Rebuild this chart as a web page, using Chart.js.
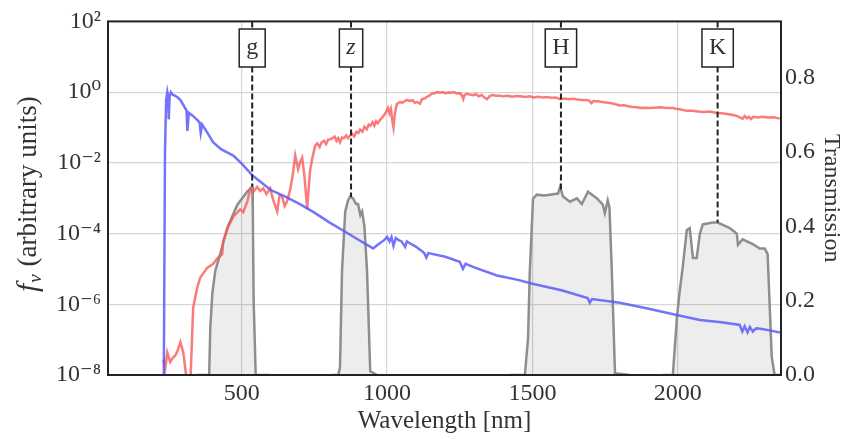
<!DOCTYPE html>
<html>
<head>
<meta charset="utf-8">
<script src="https://cdn.jsdelivr.net/npm/chart.js@4.4.0/dist/chart.umd.min.js"></script>
<style>
  html, body { margin: 0; padding: 0; background: #fff; }
  #wrap { width: 848px; height: 439px; }
</style>
</head>
<body>
<div id="wrap"><canvas id="grafico"></canvas></div>
<script>
// blue spectrum (f_nu, left log axis)
const blueWave = [230, 232, 236, 240, 244, 247, 249, 252, 256, 262, 270, 280, 289, 300, 310, 313, 318, 330, 345, 355, 359, 364, 380, 402, 430, 471, 500, 536, 560, 600, 650, 700, 750, 800, 850, 900, 952, 970, 990, 1000, 1008, 1015, 1022, 1030, 1040, 1050, 1062, 1068, 1075, 1100, 1128, 1135, 1142, 1200, 1250, 1261, 1270, 1300, 1378, 1450, 1500, 1600, 1690, 1697, 1705, 1800, 1900, 2000, 2076, 2150, 2213, 2222, 2230, 2240, 2248, 2258, 2270, 2290, 2320, 2351];
const blueFlux = [5e-9, 1e-8, 0.02, 0.6, 1.0, 0.7, 0.17, 0.8, 1.0, 0.85, 0.8, 0.7, 0.6, 0.42, 0.3, 0.08, 0.26, 0.22, 0.17, 0.14, 0.07, 0.12, 0.075, 0.038, 0.024, 0.016, 0.0095, 0.0045, 0.0031, 0.0017, 0.0011, 6.8e-4, 3.9e-4, 2.1e-4, 1.2e-4, 6.8e-5, 3.8e-5, 5e-5, 6.5e-5, 8e-5, 6e-5, 8e-5, 4.5e-5, 7.5e-5, 6.5e-5, 6e-5, 4.2e-5, 6e-5, 5.5e-5, 4.2e-5, 2.8e-5, 2.1e-5, 2.8e-5, 2.2e-5, 1.6e-5, 1.0e-5, 1.4e-5, 1.1e-5, 6.5e-6, 4.9e-6, 3.8e-6, 2.5e-6, 1.5e-6, 1.1e-6, 1.4e-6, 1.1e-6, 7.5e-7, 4.9e-7, 3.6e-7, 3.1e-7, 2.6e-7, 1.7e-7, 2.4e-7, 1.6e-7, 2.3e-7, 1.7e-7, 2.1e-7, 2.0e-7, 1.8e-7, 1.6e-7];

// red spectrum (f_nu, left log axis)
const redWave = [230, 237, 244, 254, 262, 271, 280, 289, 299, 306, 313, 323, 333, 347, 357, 381, 402, 416, 433, 436, 454, 471, 495, 505, 519, 529, 540, 553, 563, 574, 585, 598, 608, 622, 630, 639, 648, 656, 667, 677, 684, 694, 702, 708, 716, 725, 735, 742,
  753, 760, 768, 775, 783, 790, 797, 804, 812, 820, 826, 832, 838, 845, 852, 860, 866, 873, 880, 887, 895, 902, 907, 915, 922, 930, 937, 942, 950, 956, 962, 968, 976, 983, 990, 997,
  1003, 1008, 1013, 1018, 1022, 1027, 1033, 1038, 1045, 1052, 1060, 1069, 1078, 1088, 1095, 1103, 1113, 1120, 1130, 1137, 1145, 1155, 1165, 1172, 1182, 1190, 1200, 1210, 1220, 1230, 1240, 1251, 1258, 1262, 1267, 1275, 1285, 1296, 1306, 1315, 1325, 1335, 1344, 1352, 1362, 1375, 1388,
  1400, 1415, 1430, 1445, 1460, 1475, 1490, 1505, 1520, 1535, 1550, 1565, 1580, 1595, 1610, 1625, 1640, 1655, 1670, 1685, 1695, 1703, 1710, 1725, 1740, 1760, 1780, 1800, 1815, 1830, 1845, 1860, 1875, 1890, 1905, 1920, 1940, 1960, 1983,
  2000, 2015, 2031, 2050, 2070, 2090, 2110, 2134, 2150, 2170, 2190, 2205, 2215, 2223, 2230, 2238, 2245, 2252, 2260, 2275, 2290, 2310, 2330, 2351];
const redFlux = [2.7e-8, 1.5e-8, 4.3e-8, 2.3e-8, 3e-8, 3.5e-8, 5e-8, 8.5e-8, 4.3e-8, 1.5e-8, 5e-9, 5e-9, 8e-7, 3e-6, 5.6e-6, 1.07e-5, 1.4e-5, 2e-5, 2.6e-5, 6e-5, 1.6e-4, 3e-4, 4.8e-4, 4e-4, 7.9e-4, 1.8e-3, 1.5e-3, 2.1e-3, 1.6e-3, 1.9e-3, 1.3e-3, 1.9e-3, 9e-4, 4.2e-4, 1.2e-3, 1.1e-3, 6e-4, 8e-4, 1.8e-3, 5.5e-3, 1.6e-2, 6.6e-3, 1.1e-2, 1.4e-2, 4e-3, 5e-4, 6e-3, 1.26e-2,
  0.031, 0.0355, 0.028, 0.038, 0.042, 0.034, 0.045, 0.046, 0.05, 0.055, 0.042, 0.05, 0.038, 0.052, 0.05, 0.06, 0.05, 0.059, 0.066, 0.056, 0.076, 0.071, 0.087, 0.076, 0.105, 0.089, 0.12, 0.112, 0.141, 0.112, 0.151, 0.132, 0.166, 0.19, 0.224, 0.282,
  0.355, 0.251, 0.331, 0.158, 0.1, 0.251, 0.447, 0.49, 0.525, 0.5, 0.55, 0.6, 0.562, 0.589, 0.5, 0.525, 0.468, 0.631, 0.661, 0.741, 0.794, 0.912, 0.933, 1.0, 0.955, 1.0, 0.933, 0.977, 0.955, 1.0, 0.912, 0.933, 0.794, 0.631, 0.832, 0.891, 0.851, 0.813, 0.871, 0.759, 0.832, 0.708, 0.631, 0.759, 0.832, 0.794, 0.794,
  0.759, 0.794, 0.741, 0.776, 0.759, 0.724, 0.759, 0.708, 0.741, 0.708, 0.724, 0.692, 0.708, 0.631, 0.661, 0.631, 0.646, 0.617, 0.603, 0.603, 0.575, 0.49, 0.562, 0.55, 0.525, 0.5, 0.468, 0.417, 0.427, 0.398, 0.38, 0.372, 0.355, 0.363, 0.355, 0.363, 0.372, 0.355, 0.355,
  0.331, 0.316, 0.295, 0.295, 0.282, 0.275, 0.282, 0.257, 0.251, 0.24, 0.224, 0.209, 0.191, 0.178, 0.209, 0.182, 0.2, 0.174, 0.2, 0.191, 0.2, 0.191, 0.195, 0.178];

// filter transmission curves (right axis)
const gWave = [347, 388, 392, 399, 409, 426, 450, 485, 519, 536, 538, 541, 548, 598];
const gTrans = [0, 0, 0.13, 0.22, 0.28, 0.326, 0.395, 0.458, 0.493, 0.506, 0.45, 0.2, 0, 0];
const zWave = [811, 832, 838, 845, 856, 866, 873, 883, 893, 900, 908, 914, 922, 931, 942, 966];
const zTrans = [0, 0, 0.02, 0.28, 0.44, 0.47, 0.48, 0.475, 0.46, 0.46, 0.43, 0.44, 0.4, 0.28, 0.01, 0];
const hWave = [1423, 1474, 1485, 1491, 1502, 1515, 1540, 1560, 1588, 1595, 1605, 1629, 1653, 1670, 1691, 1722, 1742, 1749, 1759, 1765, 1773, 1784, 1835];
const hTrans = [0, 0, 0.1, 0.28, 0.474, 0.485, 0.483, 0.485, 0.488, 0.506, 0.48, 0.466, 0.475, 0.46, 0.493, 0.475, 0.458, 0.435, 0.47, 0.45, 0.28, 0.005, 0];
const kWave = [1948, 1983, 1997, 2007, 2017, 2031, 2041, 2052, 2065, 2076, 2086, 2120, 2137, 2179, 2203, 2207, 2223, 2258, 2282, 2299, 2309, 2323, 2333, 2355];
const kTrans = [0, 0, 0.155, 0.228, 0.29, 0.39, 0.395, 0.315, 0.315, 0.38, 0.405, 0.41, 0.41, 0.395, 0.38, 0.35, 0.365, 0.352, 0.34, 0.34, 0.325, 0.05, 0, 0];

const filterNames = ["g", "z", "H", "K"];
const filterCenters = [536, 876, 1598, 2137];

const xTicks = [500, 1000, 1500, 2000];
const fluxTicks = [1e-8, 1e-6, 1e-4, 1e-2, 1, 100];
const transTicks = [0, 0.2, 0.4, 0.6, 0.8];

const filterWaves = [gWave, zWave, hWave, kWave];
const filterTrans = [gTrans, zTrans, hTrans, kTrans];

function pares(xs, ys) {
  return xs.map((x, i) => ({ x: x, y: ys[i] }));
}

function interp(xs, ys, x) {
  for (let i = 1; i < xs.length; i++) {
    if (x <= xs[i]) {
      const t = (x - xs[i - 1]) / (xs[i] - xs[i - 1]);
      return ys[i - 1] + t * (ys[i] - ys[i - 1]);
    }
  }
  return ys[ys.length - 1];
}

const sup = { "-": "\u207B", "0": "\u2070", "1": "\u00B9", "2": "\u00B2", "4": "\u2074", "6": "\u2076", "8": "\u2078" };
function potencia(v) {
  const e = String(Math.round(Math.log10(v)));
  return "10" + e.split("").map(c => sup[c]).join("");
}

const serif = "'Liberation Serif', 'DejaVu Serif', serif";
Chart.defaults.font.family = serif;
Chart.defaults.color = "#333";

const grid = "#d6d6d6";

const extras = {
  id: "extras",
  afterDatasetsDraw(chart) {
    const c = chart.ctx;
    const a = chart.chartArea;
    const xs = chart.scales.x;
    const y2 = chart.scales.y2;

    // filter markers
    filterNames.forEach((nome, i) => {
      const px = xs.getPixelForValue(filterCenters[i]);
      const pk = interp(filterWaves[i], filterTrans[i], filterCenters[i]);
      const py = y2.getPixelForValue(pk);
      c.save();
      c.strokeStyle = "#222";
      c.lineWidth = 2;
      c.setLineDash([6, 3]);
      c.beginPath();
      c.moveTo(px, a.top);
      c.lineTo(px, py);
      c.stroke();
      c.setLineDash([]);
      c.font = (nome === "z" ? "italic " : "") + "24px " + serif;
      const w = c.measureText(nome).width + 14;
      c.fillStyle = "#fff";
      c.fillRect(px - w / 2, 29, w, 38);
      c.lineWidth = 1.5;
      c.strokeRect(px - w / 2, 29, w, 38);
      c.fillStyle = "#333";
      c.textAlign = "center";
      c.textBaseline = "middle";
      c.fillText(nome, px, 48);
      c.restore();
    });

    // frame
    c.save();
    c.strokeStyle = "#222";
    c.lineWidth = 2;
    c.strokeRect(a.left, a.top, a.right - a.left, a.bottom - a.top);
    c.restore();

    // left axis title: f_nu (arbitrary units)
    c.save();
    c.translate(29, (a.top + a.bottom) / 2 - 4);
    c.rotate(-Math.PI / 2);
    c.fillStyle = "#333";
    c.textBaseline = "middle";
    c.textAlign = "left";
    const p1 = "italic 30px " + serif;
    const p2 = "italic 19px " + serif;
    const p3 = "27px " + serif;
    const resto = " (arbitrary units)";
    c.font = p1; const w1 = c.measureText("f").width;
    c.font = p2; const w2 = c.measureText("\u03BD").width;
    c.font = p3; const w3 = c.measureText(resto).width;
    let x0 = -(w1 + w2 + 2 + w3) / 2;
    c.font = p1; c.fillText("f", x0, 0);
    c.font = p2; c.fillText("\u03BD", x0 + w1 + 1, 7);
    c.font = p3; c.fillText(resto, x0 + w1 + w2 + 2, 0);
    c.restore();
  }
};

const ctx = document.getElementById("grafico");

const chart = new Chart(ctx, {
  type: "line",
  data: {
    datasets: [
      {
        label: "blue",
        data: pares(blueWave, blueFlux),
        yAxisID: "y",
        borderColor: "rgba(90, 90, 250, 0.85)",
        borderWidth: 2.5,
        pointRadius: 0,
        tension: 0,
        fill: false,
      },
      {
        label: "red",
        data: pares(redWave, redFlux),
        yAxisID: "y",
        borderColor: "rgba(250, 90, 90, 0.8)",
        borderWidth: 2.5,
        pointRadius: 0,
        tension: 0,
        fill: false,
      },
      ...filterNames.map((nome, i) => ({
        label: nome,
        data: pares(filterWaves[i], filterTrans[i]),
        yAxisID: "y2",
        borderColor: "#8e8e8e",
        backgroundColor: "rgba(0, 0, 0, 0.07)",
        borderWidth: 2.5,
        pointRadius: 0,
        tension: 0,
        fill: "origin",
      })),
    ],
  },
  options: {
    responsive: true,
    maintainAspectRatio: false,
    animation: false,
    layout: { padding: { top: 17, left: 0, right: 0, bottom: 0 }, autoPadding: false },
    plugins: {
      legend: { display: false },
      tooltip: { enabled: false },
    },
    scales: {
      x: {
        type: "linear",
        min: 40,
        max: 2355,
        afterBuildTicks: s => { s.ticks = xTicks.map(v => ({ value: v })); },
        afterFit: s => { s.height = 64; },
        ticks: { font: { size: 24 }, padding: 4, callback: v => String(v) },
        grid: { color: grid, lineWidth: 1.2, drawTicks: false },
        border: { display: false },
        title: { display: true, text: "Wavelength [nm]", font: { size: 25 }, padding: { top: 0, bottom: 3 } },
      },
      y: {
        type: "logarithmic",
        position: "left",
        min: 1e-8,
        max: 100,
        afterBuildTicks: s => { s.ticks = fluxTicks.map(v => ({ value: v })); },
        afterFit: s => { s.width = 108; },
        ticks: { font: { size: 24 }, padding: 7, callback: v => potencia(v) },
        grid: { color: grid, lineWidth: 1.2, drawTicks: false },
        border: { display: false },
      },
      y2: {
        type: "linear",
        position: "right",
        min: 0,
        max: 0.951,
        afterBuildTicks: s => { s.ticks = transTicks.map(v => ({ value: v })); },
        afterFit: s => { s.width = 67; },
        ticks: { font: { size: 24 }, padding: 4, callback: v => v.toFixed(1) },
        grid: { display: false, drawTicks: false },
        border: { display: false },
        title: { display: true, text: "Transmission", font: { size: 24 }, padding: { top: 2, bottom: 0 } },
      },
    },
  },
  plugins: [extras],
});
</script>
</body>
</html>
